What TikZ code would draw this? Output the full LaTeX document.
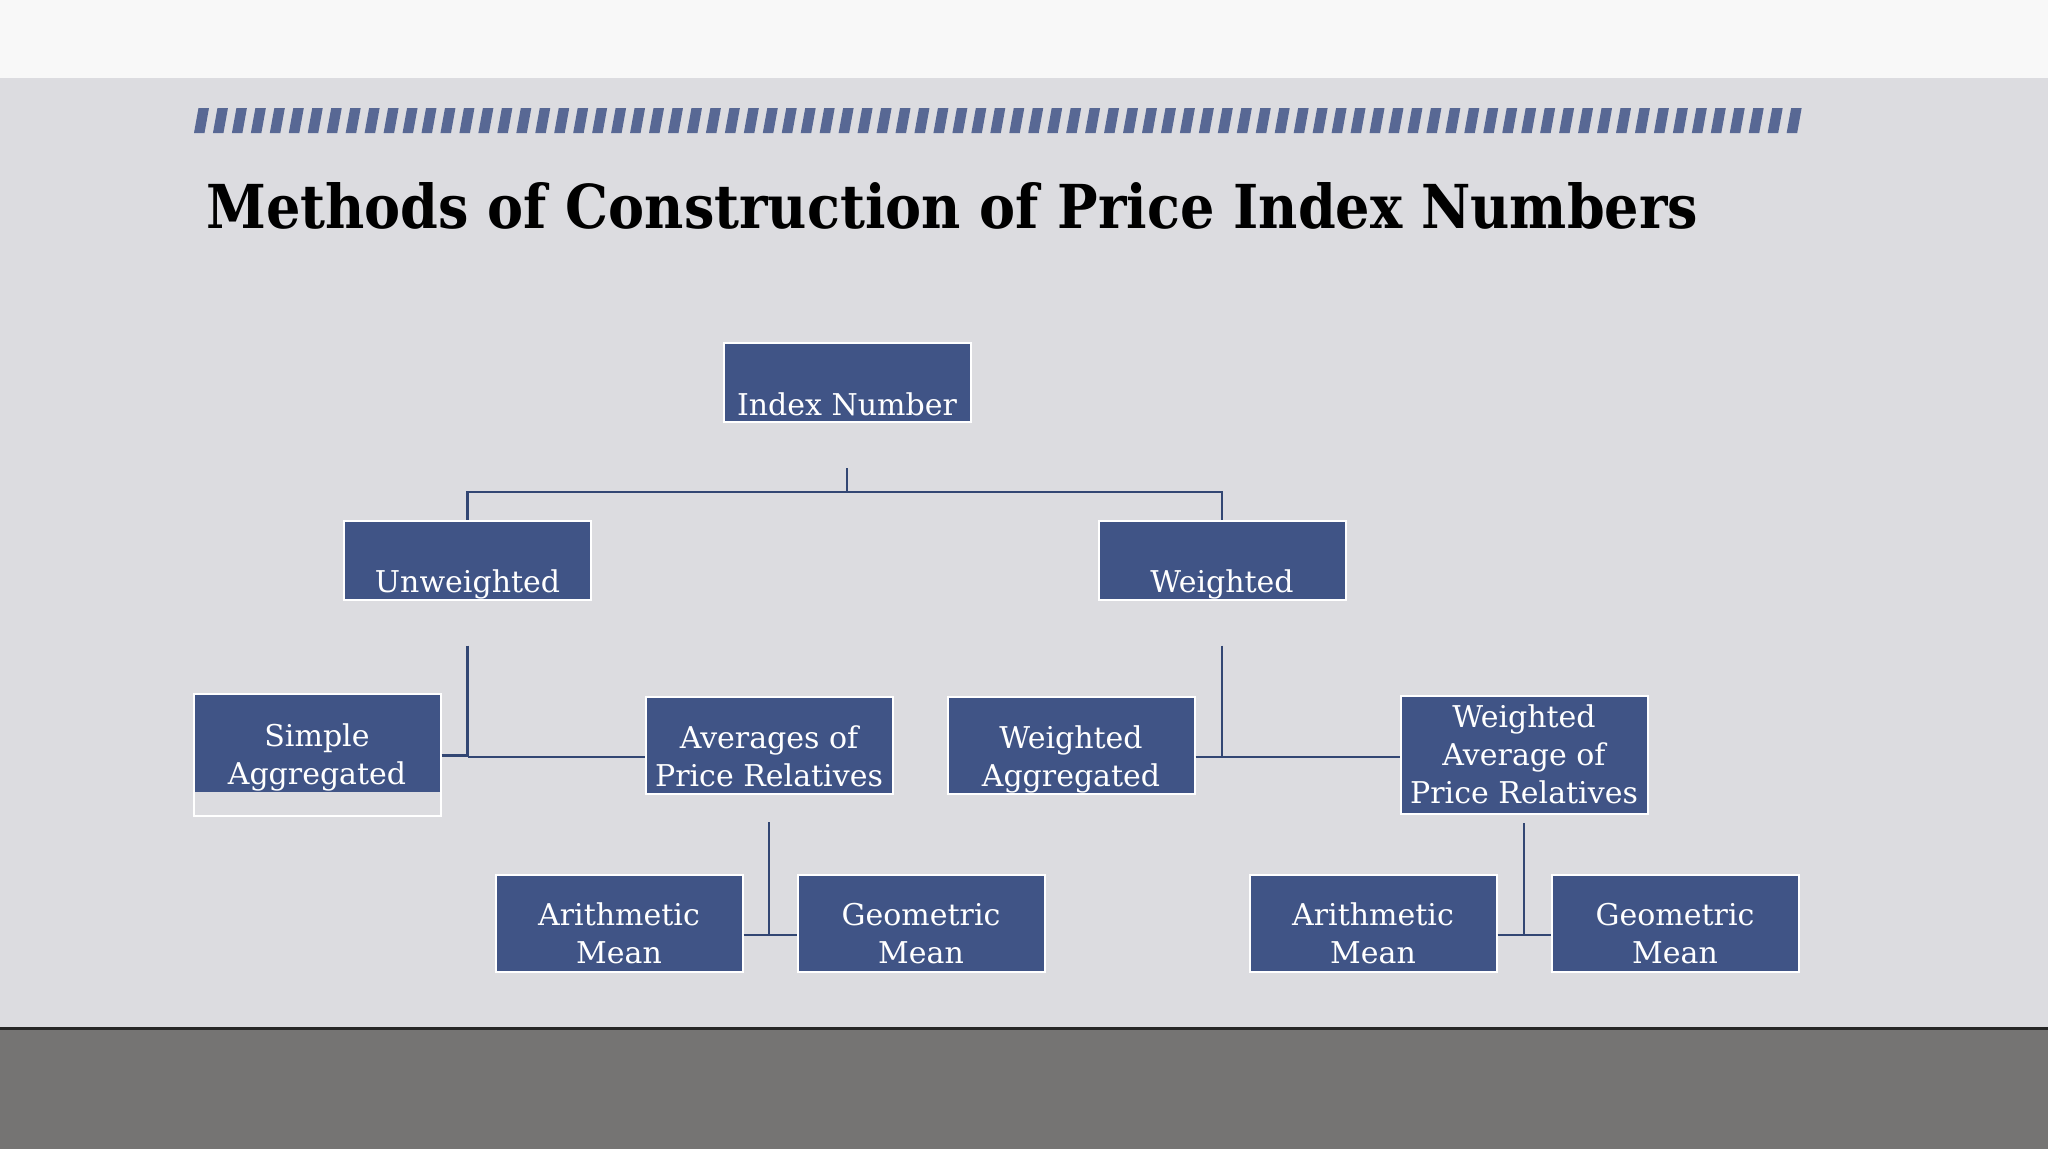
\documentclass[tikz,border=0pt]{standalone}
\usepackage{fontspec}
\setmainfont{DejaVu Serif}
\usepackage{tikz}
\definecolor{topwhite}{RGB}{248,248,248}
\definecolor{slidegray}{RGB}{220,220,224}
\definecolor{floorgray}{RGB}{117,116,115}
\definecolor{boxblue}{RGB}{64,84,134}
\definecolor{linkblue}{RGB}{50,70,115}
\definecolor{dashblue}{RGB}{88,104,148}
\newcommand{\boxlines}[1]{\begin{tabular}{@{}c@{}}#1\end{tabular}}
\tikzset{box/.style={draw=white, line width=2pt, fill=boxblue, text=white, inner sep=0pt,
        minimum width=247pt, font=\fontsize{30}{38}\selectfont},
  onerow/.style={box, text height=72pt, text depth=7pt},
  tworow/.style={box, text height=68.5pt, text depth=28.5pt},
  link/.style={draw=linkblue, line width=2.5pt}}

\begin{document}
\begin{tikzpicture}[x=1pt, y=-1pt]
  \useasboundingbox (0,0) rectangle (2048,1152);
  % slide background
  \fill[topwhite] (0,0) rectangle (2048,78);
  \fill[slidegray] (0,78) rectangle (2048,1027);
  \fill[black!85] (0,1027) rectangle (2048,1030);
  \fill[floorgray] (0,1030) rectangle (2048,1149);
  \fill[white] (0,1149) rectangle (2048,1152);
  \foreach \i in {0,...,84}
    \fill[dashblue] ({194+18.96*\i},133) -- ++(10.5,0) -- ++(4.5,-25) -- ++(-10.5,0) -- cycle;
  \node[anchor=base west, inner sep=0pt] (title) at (206,228)
    {\resizebox{1492pt}{46pt}{\bfseries Methods of Construction of Price Index Numbers}};

  % tree
  \node[onerow] (index) at (847,382.5) {Index Number};
  \node[onerow] (unw) at (467.5,560) {Unweighted};
  \node[onerow] (wtd) at (1222,560) {Weighted};
  \node[box, fill=none, text height=69.5pt, text depth=52.5pt,
    path picture={\fill[boxblue] (path picture bounding box.north west)
      rectangle ([yshift=24pt]path picture bounding box.south east);}]
    (simple) at (317,755.3) {\boxlines{Simple\\Aggregated}};
  \node[tworow] (avg) at (769,745.7) {\boxlines{Averages of\\Price Relatives}};
  \node[tworow] (wagg) at (1071,745.7) {\boxlines{Weighted\\Aggregated}};
  \node[box, text height=68.5pt, text depth=49.5pt] (wavg) at (1524,755)
    {\boxlines{Weighted\\Average of\\Price Relatives}};
  \node[tworow] (am1) at (619,923.5) {\boxlines{Arithmetic\\Mean}};
  \node[tworow] (gm1) at (921,923.5) {\boxlines{Geometric\\Mean}};
  \node[tworow] (am2) at (1373,923.5) {\boxlines{Arithmetic\\Mean}};
  \node[tworow] (gm2) at (1675,923.5) {\boxlines{Geometric\\Mean}};

  \coordinate (topbar) at (847,492);
  \coordinate (uknee) at (467.5,757);
  \coordinate (wknee) at (1222,757);
  \coordinate (aknee) at (769,935);
  \coordinate (bknee) at (1524,935);

  \draw[link] ([yshift=-45pt]index.south) -- (topbar);
  \draw[link] (topbar) -| (unw.north);
  \draw[link] (topbar) -| (wtd.north);
  \draw[link] ([yshift=-45pt]unw.south) -- (uknee);
  \draw[link] (simple.east) -- (simple.east -| uknee);
  \draw[link] (uknee) -- (uknee -| avg.west);
  \draw[link] ([yshift=-45pt]wtd.south) -- (wknee);
  \draw[link] (wagg.east |- wknee) -- (wknee);
  \draw[link] (wknee) -- (wknee -| wavg.west);
  \draw[link] ([yshift=-27pt]avg.south) -- (aknee);
  \draw[link] (am1.east |- aknee) -- (aknee -| gm1.west);
  \draw[link] ([yshift=-8pt]wavg.south) -- (bknee);
  \draw[link] (am2.east |- bknee) -- (bknee -| gm2.west);
\end{tikzpicture}
\end{document}
